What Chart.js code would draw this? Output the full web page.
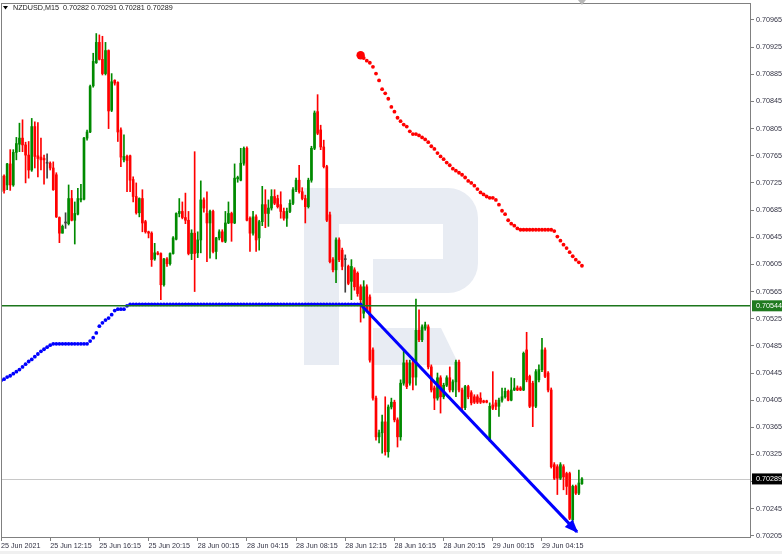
<!DOCTYPE html>
<html>
<head>
<meta charset="utf-8">
<title>NZDUSD,M15</title>
<script src="https://cdn.jsdelivr.net/npm/chart.js@4.4.1/dist/chart.umd.min.js"></script>
<style>
  html, body { margin: 0; padding: 0; background: #fff; }
  canvas { display: block; }
</style>
</head>
<body>
<canvas id="chart" width="782" height="554"></canvas>
<script>
const symbol = 'NZDUSD,M15';

// x-axis tick positions (bar index) and their labels
const timeTickIdx = [0, 16, 32, 48, 64, 80, 96, 112, 128, 144, 160, 176];
const timeTickText = ['25 Jun 2021', '25 Jun 12:15', '25 Jun 16:15', '25 Jun 20:15', '28 Jun 00:15', '28 Jun 04:15',
    '28 Jun 08:15', '28 Jun 12:15', '28 Jun 16:15', '28 Jun 20:15', '29 Jun 00:15', '29 Jun 04:15'];

const priceTicks = [0.70205, 0.70245, 0.70285, 0.70325, 0.70365, 0.70405, 0.70445, 0.70485, 0.70525, 0.70565,
    0.70605, 0.70645, 0.70685, 0.70725, 0.70765, 0.70805, 0.70845, 0.70885, 0.70925, 0.70965];

// M15 candles, one per bar index
const openP = [
    0.70712, 0.70735, 0.70722, 0.70753, 0.70722, 0.70770, 0.70782, 0.70791, 0.70781, 0.70766,
    0.70744, 0.70808, 0.70765, 0.70763, 0.70761, 0.70754, 0.70754, 0.70747, 0.70737, 0.70674,
    0.70651, 0.70666, 0.70665, 0.70702, 0.70670, 0.70679, 0.70700, 0.70701, 0.70791, 0.70800,
    0.70868, 0.70902, 0.70932, 0.70907, 0.70886, 0.70920, 0.70832, 0.70876, 0.70873, 0.70803,
    0.70759, 0.70764, 0.70765, 0.70730, 0.70705, 0.70681, 0.70702, 0.70668, 0.70653, 0.70651,
    0.70613, 0.70622, 0.70621, 0.70575, 0.70613, 0.70606, 0.70621, 0.70642, 0.70680, 0.70683,
    0.70674, 0.70670, 0.70621, 0.70651, 0.70622, 0.70641, 0.70700, 0.70680, 0.70666, 0.70683,
    0.70624, 0.70644, 0.70653, 0.70639, 0.70666, 0.70680, 0.70666, 0.70731, 0.70729, 0.70754,
    0.70776, 0.70673, 0.70651, 0.70675, 0.70644, 0.70668, 0.70693, 0.70680, 0.70688, 0.70705,
    0.70702, 0.70693, 0.70683, 0.70673, 0.70683, 0.70695, 0.70715, 0.70729, 0.70712, 0.70702,
    0.70690, 0.70729, 0.70776, 0.70830, 0.70803, 0.70778, 0.70749, 0.70678, 0.70612, 0.70597,
    0.70641, 0.70626, 0.70612, 0.70602, 0.70580, 0.70597, 0.70592, 0.70572, 0.70533, 0.70572,
    0.70557, 0.70479, 0.70408, 0.70351, 0.70357, 0.70373, 0.70329, 0.70395, 0.70402, 0.70376,
    0.70351, 0.70430, 0.70460, 0.70430, 0.70460, 0.70439, 0.70508, 0.70494, 0.70511, 0.70513,
    0.70454, 0.70423, 0.70408, 0.70438, 0.70410, 0.70427, 0.70438, 0.70420, 0.70432, 0.70461,
    0.70420, 0.70394, 0.70425, 0.70416, 0.70410, 0.70410, 0.70408, 0.70404, 0.70404, 0.70346,
    0.70398, 0.70401, 0.70396, 0.70405, 0.70410, 0.70418, 0.70405, 0.70420, 0.70423, 0.70423,
    0.70420, 0.70479, 0.70440, 0.70430, 0.70396, 0.70435, 0.70450, 0.70479, 0.70445, 0.70420,
    0.70310, 0.70307, 0.70290, 0.70307, 0.70297, 0.70297, 0.70229, 0.70278, 0.70268, 0.70282
];
const highP = [
    0.70738, 0.70737, 0.70754, 0.70774, 0.70774, 0.70792, 0.70813, 0.70818, 0.70785, 0.70786,
    0.70820, 0.70815, 0.70814, 0.70791, 0.70766, 0.70768, 0.70756, 0.70756, 0.70740, 0.70675,
    0.70663, 0.70681, 0.70722, 0.70714, 0.70697, 0.70717, 0.70723, 0.70792, 0.70803, 0.70869,
    0.70916, 0.70945, 0.70943, 0.70941, 0.70932, 0.70921, 0.70886, 0.70877, 0.70874, 0.70806,
    0.70796, 0.70766, 0.70766, 0.70734, 0.70725, 0.70703, 0.70715, 0.70670, 0.70654, 0.70653,
    0.70636, 0.70624, 0.70622, 0.70614, 0.70615, 0.70622, 0.70646, 0.70681, 0.70702, 0.70697,
    0.70710, 0.70683, 0.70656, 0.70771, 0.70653, 0.70728, 0.70703, 0.70712, 0.70685, 0.70685,
    0.70645, 0.70656, 0.70656, 0.70683, 0.70697, 0.70682, 0.70753, 0.70735, 0.70776, 0.70778,
    0.70778, 0.70675, 0.70683, 0.70678, 0.70670, 0.70720, 0.70715, 0.70700, 0.70715, 0.70715,
    0.70707, 0.70712, 0.70688, 0.70688, 0.70700, 0.70718, 0.70732, 0.70751, 0.70718, 0.70707,
    0.70732, 0.70779, 0.70831, 0.70855, 0.70810, 0.70788, 0.70751, 0.70682, 0.70615, 0.70644,
    0.70644, 0.70629, 0.70619, 0.70604, 0.70612, 0.70600, 0.70594, 0.70575, 0.70581, 0.70575,
    0.70560, 0.70482, 0.70411, 0.70361, 0.70383, 0.70410, 0.70398, 0.70408, 0.70405, 0.70379,
    0.70435, 0.70479, 0.70464, 0.70464, 0.70464, 0.70554, 0.70538, 0.70516, 0.70520, 0.70516,
    0.70457, 0.70426, 0.70445, 0.70441, 0.70430, 0.70441, 0.70454, 0.70435, 0.70464, 0.70464,
    0.70423, 0.70427, 0.70427, 0.70419, 0.70413, 0.70413, 0.70416, 0.70405, 0.70405, 0.70401,
    0.70447, 0.70405, 0.70408, 0.70423, 0.70423, 0.70420, 0.70438, 0.70437, 0.70426, 0.70425,
    0.70476, 0.70505, 0.70442, 0.70433, 0.70450, 0.70457, 0.70496, 0.70482, 0.70447, 0.70423,
    0.70313, 0.70310, 0.70313, 0.70310, 0.70299, 0.70299, 0.70280, 0.70280, 0.70302, 0.70291
];
const lowP = [
    0.70702, 0.70710, 0.70715, 0.70714, 0.70720, 0.70759, 0.70771, 0.70771, 0.70725, 0.70732,
    0.70742, 0.70747, 0.70734, 0.70744, 0.70723, 0.70732, 0.70744, 0.70714, 0.70674, 0.70637,
    0.70651, 0.70658, 0.70663, 0.70669, 0.70635, 0.70678, 0.70697, 0.70700, 0.70788, 0.70799,
    0.70866, 0.70901, 0.70906, 0.70884, 0.70884, 0.70805, 0.70830, 0.70869, 0.70786, 0.70749,
    0.70756, 0.70712, 0.70712, 0.70697, 0.70679, 0.70675, 0.70653, 0.70651, 0.70644, 0.70602,
    0.70611, 0.70619, 0.70553, 0.70573, 0.70602, 0.70604, 0.70620, 0.70641, 0.70675, 0.70672,
    0.70665, 0.70619, 0.70612, 0.70565, 0.70615, 0.70622, 0.70682, 0.70609, 0.70614, 0.70622,
    0.70613, 0.70641, 0.70638, 0.70637, 0.70665, 0.70639, 0.70665, 0.70726, 0.70728, 0.70751,
    0.70669, 0.70624, 0.70648, 0.70624, 0.70626, 0.70662, 0.70659, 0.70661, 0.70685, 0.70693,
    0.70688, 0.70673, 0.70670, 0.70661, 0.70681, 0.70693, 0.70712, 0.70710, 0.70700, 0.70666,
    0.70688, 0.70726, 0.70774, 0.70796, 0.70774, 0.70747, 0.70668, 0.70607, 0.70594, 0.70578,
    0.70609, 0.70597, 0.70564, 0.70575, 0.70553, 0.70567, 0.70558, 0.70520, 0.70526, 0.70535,
    0.70461, 0.70405, 0.70346, 0.70342, 0.70327, 0.70324, 0.70321, 0.70392, 0.70373, 0.70336,
    0.70346, 0.70427, 0.70422, 0.70427, 0.70420, 0.70427, 0.70491, 0.70491, 0.70508, 0.70451,
    0.70417, 0.70391, 0.70405, 0.70386, 0.70407, 0.70425, 0.70417, 0.70417, 0.70410, 0.70417,
    0.70391, 0.70391, 0.70407, 0.70398, 0.70400, 0.70400, 0.70400, 0.70401, 0.70401, 0.70344,
    0.70391, 0.70391, 0.70381, 0.70402, 0.70408, 0.70404, 0.70404, 0.70419, 0.70419, 0.70419,
    0.70419, 0.70432, 0.70394, 0.70366, 0.70394, 0.70432, 0.70447, 0.70438, 0.70417, 0.70305,
    0.70288, 0.70266, 0.70288, 0.70273, 0.70266, 0.70229, 0.70226, 0.70266, 0.70266, 0.70281
];
const closeP = [
    0.70735, 0.70714, 0.70753, 0.70722, 0.70770, 0.70783, 0.70791, 0.70781, 0.70766, 0.70744,
    0.70808, 0.70764, 0.70761, 0.70759, 0.70759, 0.70754, 0.70747, 0.70715, 0.70675, 0.70651,
    0.70661, 0.70666, 0.70702, 0.70670, 0.70680, 0.70702, 0.70702, 0.70791, 0.70800, 0.70867,
    0.70904, 0.70932, 0.70907, 0.70886, 0.70920, 0.70831, 0.70874, 0.70872, 0.70800, 0.70763,
    0.70764, 0.70758, 0.70729, 0.70705, 0.70681, 0.70702, 0.70666, 0.70653, 0.70651, 0.70612,
    0.70622, 0.70620, 0.70575, 0.70613, 0.70606, 0.70621, 0.70644, 0.70680, 0.70683, 0.70674,
    0.70670, 0.70621, 0.70651, 0.70621, 0.70641, 0.70700, 0.70688, 0.70666, 0.70683, 0.70624,
    0.70644, 0.70653, 0.70639, 0.70666, 0.70680, 0.70666, 0.70732, 0.70733, 0.70754, 0.70776,
    0.70670, 0.70651, 0.70675, 0.70641, 0.70668, 0.70693, 0.70680, 0.70688, 0.70705, 0.70695,
    0.70690, 0.70683, 0.70673, 0.70683, 0.70695, 0.70715, 0.70729, 0.70712, 0.70702, 0.70690,
    0.70729, 0.70776, 0.70828, 0.70798, 0.70778, 0.70749, 0.70670, 0.70609, 0.70597, 0.70641,
    0.70612, 0.70602, 0.70612, 0.70577, 0.70602, 0.70572, 0.70562, 0.70553, 0.70572, 0.70538,
    0.70464, 0.70408, 0.70351, 0.70357, 0.70373, 0.70329, 0.70395, 0.70402, 0.70376, 0.70351,
    0.70430, 0.70460, 0.70425, 0.70460, 0.70439, 0.70508, 0.70494, 0.70513, 0.70516, 0.70454,
    0.70420, 0.70408, 0.70438, 0.70410, 0.70427, 0.70438, 0.70420, 0.70432, 0.70461, 0.70420,
    0.70394, 0.70425, 0.70410, 0.70401, 0.70402, 0.70402, 0.70402, 0.70402, 0.70402, 0.70396,
    0.70393, 0.70396, 0.70405, 0.70410, 0.70418, 0.70405, 0.70420, 0.70423, 0.70420, 0.70420,
    0.70474, 0.70435, 0.70396, 0.70396, 0.70447, 0.70450, 0.70479, 0.70440, 0.70420, 0.70307,
    0.70290, 0.70290, 0.70310, 0.70292, 0.70278, 0.70231, 0.70278, 0.70268, 0.70283, 0.70289
];

// blue dotted indicator, bars 0..117
const blueDots = [
    0.70434, 0.70436, 0.70439, 0.70441, 0.70444, 0.70447, 0.70450, 0.70454, 0.70458, 0.70462,
    0.70465, 0.70469, 0.70473, 0.70477, 0.70480, 0.70483, 0.70486,
    0.70488, 0.70488, 0.70488, 0.70488, 0.70488, 0.70488, 0.70488, 0.70488, 0.70488, 0.70488, 0.70488, 0.70488,
    0.70492, 0.70497, 0.70504, 0.70514, 0.70519, 0.70523, 0.70526, 0.70531, 0.70537,
    0.70539, 0.70539, 0.70539, 0.70544,
    0.70546, 0.70546, 0.70546, 0.70546, 0.70546, 0.70546, 0.70546, 0.70546, 0.70546, 0.70546,
    0.70546, 0.70546, 0.70546, 0.70546, 0.70546, 0.70546, 0.70546, 0.70546, 0.70546,
    0.70546, 0.70546, 0.70546, 0.70546, 0.70546, 0.70546, 0.70546, 0.70546, 0.70546, 0.70546,
    0.70546, 0.70546, 0.70546, 0.70546, 0.70546, 0.70546, 0.70546, 0.70546, 0.70546,
    0.70546, 0.70546, 0.70546, 0.70546, 0.70546, 0.70546, 0.70546, 0.70546, 0.70546, 0.70546,
    0.70546, 0.70546, 0.70546, 0.70546, 0.70546, 0.70546, 0.70546, 0.70546, 0.70546,
    0.70546, 0.70546, 0.70546, 0.70546, 0.70546, 0.70546, 0.70546, 0.70546, 0.70546, 0.70546,
    0.70546, 0.70546, 0.70546, 0.70546, 0.70546, 0.70546, 0.70546, 0.70546, 0.70546
];

// red dotted indicator, starts at bar 117
const redStart = 117;
const redDots = [
    0.70913, 0.70909, 0.70905, 0.70902, 0.70896, 0.70886, 0.70876, 0.70863, 0.70857, 0.70849,
    0.70837, 0.70830, 0.70821, 0.70816, 0.70811, 0.70808, 0.70801, 0.70797, 0.70797, 0.70795,
    0.70792, 0.70789, 0.70785, 0.70779, 0.70775, 0.70769, 0.70764, 0.70760, 0.70755, 0.70751,
    0.70746, 0.70743, 0.70740, 0.70737, 0.70733, 0.70728, 0.70725, 0.70721, 0.70716, 0.70711,
    0.70708, 0.70705, 0.70703, 0.70703, 0.70700, 0.70693, 0.70684, 0.70679, 0.70670, 0.70665,
    0.70662, 0.70658,
    0.70656, 0.70656, 0.70656, 0.70656, 0.70656, 0.70656, 0.70656, 0.70656, 0.70656, 0.70656, 0.70656,
    0.70654, 0.70646, 0.70640, 0.70634, 0.70629, 0.70623, 0.70617, 0.70612, 0.70608, 0.70603
];

// trend arrow (bar index, price)
const trendX = [117, 187.4];
const trendY = [0.70546, 0.70211];

const levelPrice = 0.70544;
const bidPrice = closeP[closeP.length - 1];

const UP = '#008a00';
const DOWN = '#ff0000';
const DOJI = '#404040';
const FONT = 'Liberation Sans';

const candleColor = openP.map((o, i) => closeP[i] > o ? UP : (closeP[i] < o ? DOWN : DOJI));
const wickData = openP.map((o, i) => ({ x: i, y: [Math.min(lowP[i], o, closeP[i]), Math.max(highP[i], o, closeP[i])] }));
const bodyData = openP.map((o, i) => ({ x: i, y: [Math.min(o, closeP[i]), Math.max(o, closeP[i])] }));
const blueData = blueDots.map((v, i) => ({ x: i, y: v }));
const redData = redDots.map((v, i) => ({ x: redStart + i, y: v }));
const trendData = trendX.map((v, i) => ({ x: v, y: trendY[i] }));

function priceTag(chart, price, bg, fg) {
    const c = chart.ctx;
    const yy = chart.scales.y.getPixelForValue(price);
    const left = chart.chartArea.right + 1;
    c.fillStyle = bg;
    c.fillRect(left, yy - 5.5, chart.width - left, 11);
    c.fillStyle = fg;
    c.font = '7.2px ' + FONT;
    c.textBaseline = 'middle';
    c.textAlign = 'left';
    c.fillText(price.toFixed(5), left + 4, yy + 0.5);
}

const decor = {
    id: 'decor',
    beforeDraw(chart) {
        const c = chart.ctx;
        c.save();
        c.fillStyle = '#ffffff';
        c.fillRect(0, 0, chart.width, chart.height);
        c.fillStyle = '#f0f0f0';
        c.fillRect(0, 551, chart.width, chart.height - 551);
        c.restore();
    },
    beforeDatasetsDraw(chart) {
        const c = chart.ctx;
        const a = chart.chartArea;
        const y = chart.scales.y;
        c.save();
        // background logo
        c.fillStyle = '#e8ecf3';
        c.beginPath();
        c.moveTo(304, 188);
        c.lineTo(448, 188);
        c.arcTo(478, 188, 478, 218, 30);
        c.lineTo(478, 263);
        c.arcTo(478, 293, 448, 293, 30);
        c.lineTo(373, 293);
        c.lineTo(373, 259);
        c.lineTo(443, 259);
        c.lineTo(443, 224);
        c.lineTo(339, 224);
        c.lineTo(339, 365);
        c.lineTo(304, 365);
        c.closePath();
        c.fill();
        c.beginPath();
        c.moveTo(373, 328);
        c.lineTo(441, 328);
        c.lineTo(459, 365);
        c.lineTo(373, 365);
        c.closePath();
        c.fill();

        // bid line
        let yy = Math.round(y.getPixelForValue(bidPrice)) + 0.5;
        c.strokeStyle = '#c8c8c8';
        c.lineWidth = 1;
        c.beginPath();
        c.moveTo(a.left, yy);
        c.lineTo(a.right, yy);
        c.stroke();
        c.restore();
    },
    afterDatasetsDraw(chart) {
        const c = chart.ctx;
        const a = chart.chartArea;
        const { x, y } = chart.scales;
        c.save();
        // horizontal level
        const yy = y.getPixelForValue(levelPrice);
        c.strokeStyle = '#1c761c';
        c.lineWidth = 1.4;
        c.beginPath();
        c.moveTo(a.left, yy);
        c.lineTo(a.right, yy);
        c.stroke();

        // arrow head on the trend line
        const x0 = x.getPixelForValue(trendX[0]), y0 = y.getPixelForValue(trendY[0]);
        const x1 = x.getPixelForValue(trendX[1]), y1 = y.getPixelForValue(trendY[1]);
        const ang = Math.atan2(y1 - y0, x1 - x0);
        const len = 12, half = 5.5;
        const bx = x1 - len * Math.cos(ang), by = y1 - len * Math.sin(ang);
        c.fillStyle = '#0000ff';
        c.beginPath();
        c.moveTo(x1 + 1.5 * Math.cos(ang), y1 + 1.5 * Math.sin(ang));
        c.lineTo(bx + half * Math.sin(ang), by - half * Math.cos(ang));
        c.lineTo(bx - half * Math.sin(ang), by + half * Math.cos(ang));
        c.closePath();
        c.fill();
        c.restore();
    },
    afterDraw(chart) {
        const c = chart.ctx;
        const a = chart.chartArea;
        c.save();
        // frame
        c.strokeStyle = '#808080';
        c.lineWidth = 1;
        c.strokeRect(Math.round(a.left) + 0.5, Math.round(a.top) + 0.5,
            Math.round(a.right - a.left) - 1, Math.round(a.bottom - a.top) - 1);

        // header
        c.fillStyle = '#000000';
        c.beginPath();
        c.moveTo(3, 6);
        c.lineTo(8, 6);
        c.lineTo(5.5, 9.5);
        c.closePath();
        c.fill();
        const last = closeP.length - 1;
        const head = symbol + '  ' + [openP[last], highP[last], lowP[last], closeP[last]].map(v => v.toFixed(5)).join(' ');
        c.fillStyle = '#1a1a1a';
        c.font = '7.2px ' + FONT;
        c.textBaseline = 'middle';
        c.textAlign = 'left';
        c.fillText(head, 13, 8.5);

        // shift marker
        const sx = chart.scales.x.getPixelForValue(last);
        c.fillStyle = '#b8b8b8';
        c.beginPath();
        c.moveTo(sx - 4, 0);
        c.lineTo(sx + 4, 0);
        c.lineTo(sx, 5);
        c.closePath();
        c.fill();

        // price tags on the axis
        priceTag(chart, levelPrice, '#1f7a1f', '#ffffff');
        priceTag(chart, bidPrice, '#000000', '#ffffff');
        c.restore();
    }
};

const ctx = document.getElementById('chart').getContext('2d');
const chart = new Chart(ctx, {
    type: 'bar',
    data: {
        datasets: [
            {
                type: 'line',
                label: 'trend',
                data: trendData,
                borderColor: '#0000ff',
                borderWidth: 3,
                pointRadius: 0,
                order: 0
            },
            {
                type: 'line',
                label: 'red',
                data: redData,
                showLine: false,
                pointRadius: redData.map((p, i) => i === 0 ? 4.2 : 1.9),
                pointBackgroundColor: '#ff0000',
                pointBorderWidth: 0,
                order: 1
            },
            {
                type: 'line',
                label: 'blue',
                data: blueData,
                showLine: false,
                pointRadius: 1.9,
                pointBackgroundColor: '#0000ff',
                pointBorderWidth: 0,
                order: 2
            },
            {
                label: 'body',
                data: bodyData,
                backgroundColor: candleColor,
                barThickness: 2,
                minBarLength: 1,
                grouped: false,
                order: 3
            },
            {
                label: 'wick',
                data: wickData,
                backgroundColor: candleColor,
                barThickness: 1,
                grouped: false,
                order: 4
            }
        ]
    },
    options: {
        responsive: false,
        animation: false,
        layout: { autoPadding: false, padding: { left: 1, top: 3, right: 0, bottom: 0 } },
        plugins: {
            legend: { display: false },
            tooltip: { enabled: false }
        },
        scales: {
            x: {
                type: 'linear',
                min: 0,
                max: 244,
                offset: false,
                afterBuildTicks: s => { s.ticks = timeTickIdx.map(v => ({ value: v })); },
                afterFit: s => { s.height = 16; s.paddingLeft = 0; s.paddingRight = 0; },
                grid: { offset: false, drawOnChartArea: false, drawTicks: true, tickLength: 3, color: '#808080' },
                border: { display: false },
                ticks: {
                    autoSkip: false,
                    maxRotation: 0,
                    minRotation: 0,
                    align: 'start',
                    padding: 1,
                    color: '#333344',
                    font: { family: FONT, size: 7.2 },
                    callback: (v, i) => timeTickText[i]
                }
            },
            y: {
                position: 'right',
                min: 0.70202,
                max: 0.70990,
                afterBuildTicks: s => { s.ticks = priceTicks.map(v => ({ value: v })); },
                afterFit: s => { s.width = 31; s.paddingTop = 0; s.paddingBottom = 0; },
                grid: { drawOnChartArea: false, drawTicks: true, tickLength: 3, color: '#808080' },
                border: { display: false },
                ticks: {
                    autoSkip: false,
                    padding: 2,
                    color: '#333344',
                    font: { family: FONT, size: 7.2 },
                    callback: v => v.toFixed(5)
                }
            }
        }
    },
    plugins: [decor]
});
</script>
</body>
</html>
